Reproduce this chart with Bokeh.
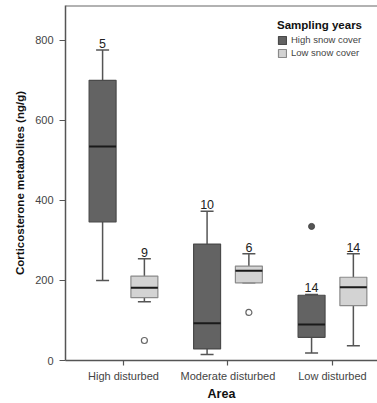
from bokeh.plotting import figure
from bokeh.models import FixedTicker, Range1d, Span, Legend, LegendItem, ColumnDataSource
from bokeh.core.properties import value
from bokeh.embed import file_html
from bokeh.resources import INLINE

# ---- data ----
areas = ["High disturbed", "Moderate disturbed", "Low disturbed"]
series = ["High snow cover", "Low snow cover"]

high_lower = [200, 15, 19]
high_q1 = [346, 29, 58]
high_median = [535, 93, 90]
high_q3 = [700, 291, 163]
high_upper = [776, 373, 165]
high_n = [5, 10, 14]
high_out_area = ["Low disturbed"]
high_out_val = [335]

low_lower = [147, 194, 37]
low_q1 = [157, 194, 137]
low_median = [182, 224, 183]
low_q3 = [211, 236, 208]
low_upper = [254, 267, 267]
low_n = [9, 6, 14]
low_out_area = ["High disturbed", "Moderate disturbed"]
low_out_val = [50, 120]

y_ticks = [0, 200, 400, 600, 800]

FONT = "Liberation Sans"
Y_END = 887
p = figure(width=377, height=403, output_backend="svg", toolbar_location=None,
           x_range=Range1d(0.445, 3.431), y_range=Range1d(0, Y_END),
           min_border_left=65, min_border_right=0, min_border_top=5, min_border_bottom=43)
p.outline_line_color = None
p.grid.grid_line_color = None
p.background_fill_color = "white"

offsets = [-0.2, 0.2]
fills = ["#636363", "#d3d3d3"]
lines = ["#4a4a4a", "#8a8a8a"]
bw = 0.258
box_renderers = []
for i, (lo, q1, md, q3, up, n, oa, ov) in enumerate([
        (high_lower, high_q1, high_median, high_q3, high_upper, high_n, high_out_area, high_out_val),
        (low_lower, low_q1, low_median, low_q3, low_upper, low_n, low_out_area, low_out_val)]):
    xs = [k + 1 + offsets[i] for k in range(len(areas))]
    src = ColumnDataSource(dict(x=xs, lo=lo, q1=q1, md=md, q3=q3, up=up,
                                x0=[x - bw / 2 for x in xs], x1=[x + bw / 2 for x in xs],
                                n=[str(v) for v in n]))
    p.segment(x0="x", y0="lo", x1="x", y1="q1", source=src, line_color="#555555", line_width=1.5)
    p.segment(x0="x", y0="q3", x1="x", y1="up", source=src, line_color="#555555", line_width=1.5)
    p.scatter(x="x", y="lo", source=src, marker="dash", size=13, line_color="#555555", line_width=1.5)
    p.scatter(x="x", y="up", source=src, marker="dash", size=13, line_color="#555555", line_width=1.5)
    r = p.vbar(x="x", bottom="q1", top="q3", width=bw, source=src,
               fill_color=fills[i], line_color=lines[i], line_width=1.2)
    box_renderers.append(r)
    p.segment(x0="x0", y0="md", x1="x1", y1="md", source=src, line_color="#1a1a1a", line_width=2)
    p.text(x="x", y="up", text="n", source=src, text_align="center", text_baseline="bottom",
           y_offset=-2, text_font=value(FONT), text_font_size="12.5px", text_color="#222222")
    ox = [areas.index(a) + 1 + offsets[i] for a in oa]
    if i == 0:
        p.scatter(ox, ov, size=6, fill_color="#555555", line_color="#444444")
    else:
        p.scatter(ox, ov, size=6, fill_color="white", line_color="#666666", line_width=1.2)

# top frame line
p.add_layout(Span(location=Y_END, dimension="width", line_color="#666666", line_width=2))

# axes
p.xaxis.ticker = FixedTicker(ticks=[1, 2, 3])
p.xaxis.major_label_overrides = {k + 1: a for k, a in enumerate(areas)}
p.yaxis.ticker = FixedTicker(ticks=y_ticks)
for ax in (p.xaxis, p.yaxis):
    ax.axis_line_color = "#555555"
    ax.axis_line_width = 1.5
    ax.major_tick_line_color = "#555555"
    ax.major_tick_line_width = 1.2
    ax.minor_tick_line_color = None
    ax.major_tick_in = 0
    ax.major_label_text_font = FONT
    ax.major_label_text_color = "#444444"
    ax.axis_label_text_font = FONT
    ax.axis_label_text_font_style = "bold"
    ax.axis_label_text_color = "#111111"
p.xaxis.major_tick_out = 5
p.yaxis.major_tick_out = 6
p.xaxis.major_label_text_font_size = "11px"
p.yaxis.major_label_text_font_size = "11px"
p.xaxis.major_label_standoff = 4
p.yaxis.major_label_standoff = 6
p.xaxis.axis_label = "Area"
p.yaxis.axis_label = "Corticosterone metabolites (ng/g)"
p.xaxis.axis_label_text_font_size = "12.5px"
p.yaxis.axis_label_text_font_size = "11.5px"
p.xaxis.axis_label_standoff = 2
p.yaxis.axis_label_standoff = 6

legend = Legend(items=[LegendItem(label=series[0], renderers=[box_renderers[0]]),
                       LegendItem(label=series[1], renderers=[box_renderers[1]])],
                title="Sampling years", location=(212, 302))
legend.title_text_font = FONT
legend.title_text_font_style = "bold"
legend.title_text_font_size = "11.5px"
legend.title_text_color = "#111111"
legend.title_standoff = 3
legend.label_text_font = FONT
legend.label_text_font_size = "9.5px"
legend.label_text_color = "#444444"
legend.glyph_width = 10
legend.glyph_height = 10
legend.label_height = 10
legend.label_standoff = 4
legend.spacing = 2
legend.padding = 2
legend.margin = 0
legend.border_line_color = None
legend.background_fill_alpha = 0
p.add_layout(legend)

open("out.html", "w").write(file_html(p, INLINE))
